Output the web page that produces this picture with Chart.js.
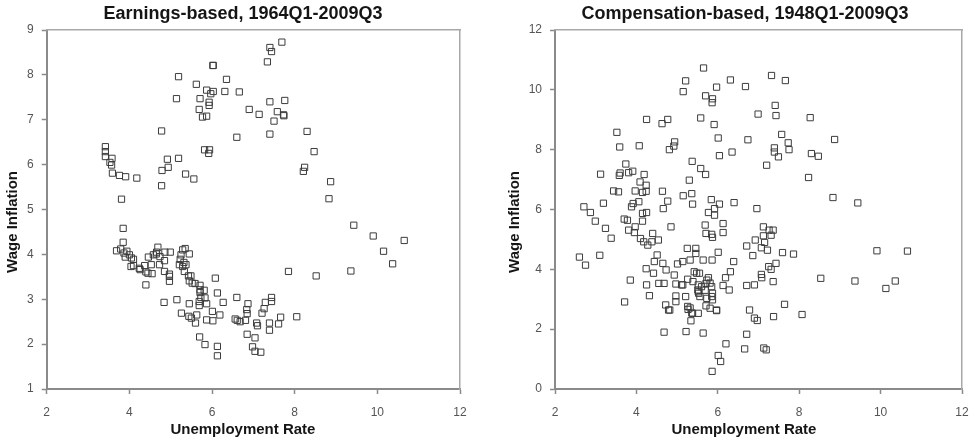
<!DOCTYPE html>
<html lang="en">
<head>
<meta charset="UTF-8">
<title>Wage Inflation vs Unemployment</title>
<script src="https://cdn.jsdelivr.net/npm/chart.js"></script>
<style>
body {
    margin: 0;
    background: #fff;
    width: 972px;
    height: 444px;
    overflow: hidden;
    position: relative;
}
/* two panels side by side */
.panel {
    position: absolute;
    top: 0;
}
#leftPanel { left: 0; }
#rightPanel { left: 500px; }
</style>
</head>
<body>
<div class="panel" id="leftPanel"><canvas id="earnChart" width="486" height="444"></canvas></div>
<div class="panel" id="rightPanel"><canvas id="compChart" width="490" height="444"></canvas></div>

<script>
// Earnings-based, 1964Q1-2009Q3
var earnUnemp = [
    3.42, 3.42, 3.42, 3.58, 3.53, 3.57, 3.59, 3.76, 3.91, 4.18, 3.81, 4.78, 4.79, 4.94, 4.92, 4.78,
    5.19, 5.36, 5.56, 5.19, 5.14, 5.62, 5.71, 5.69, 5.77, 5.87, 5.87, 5.93, 5.93, 6.03, 5.97, 6.03,
    6.02, 5.82, 5.94, 5.92, 6.31, 6.35, 6.66, 6.60, 6.90, 7.14, 7.34, 7.40, 7.44, 7.69, 7.40, 7.76,
    7.58, 7.50, 7.73, 7.74, 7.40, 8.30, 8.24, 8.21, 8.47, 8.87, 8.83, 9.43, 9.90, 10.15, 10.37, 10.65,
    9.36, 8.52, 7.85, 8.05,
    3.85, 3.85, 3.69, 3.79, 3.87, 3.94, 3.90, 4.00, 4.05, 4.10, 4.04, 4.10, 4.24, 4.26, 4.37, 4.40,
    4.45, 4.40, 4.46, 4.58, 4.69, 4.66, 4.65, 4.74, 4.53, 4.55, 4.73, 4.85, 4.85, 4.86, 4.99, 4.97,
    4.97, 4.97, 4.84, 5.15, 5.25, 5.29, 5.35, 5.45, 5.23, 5.21, 5.29, 5.32, 5.37, 5.33, 5.43, 5.49,
    5.45, 5.52, 5.59, 5.71, 5.71, 5.71, 5.73, 5.81, 5.83, 5.69, 5.69, 5.87, 6.08, 6.13, 6.27, 5.45,
    5.26, 5.44, 5.50, 5.63, 5.60, 5.87, 6.01, 6.02, 6.19, 5.70, 5.83, 6.13, 6.13, 6.60, 6.56, 6.61,
    6.68, 6.81, 6.87, 6.84, 6.85, 6.85, 7.04, 6.98, 7.04, 7.18, 7.10, 7.08, 7.21, 7.26, 7.29, 7.44,
    7.44, 7.39, 7.39, 7.61, 7.66
];
var earnWage = [
    6.40, 6.29, 6.18, 6.14, 6.05, 5.99, 5.81, 5.76, 5.73, 5.70, 5.23, 6.75, 5.87, 5.94, 6.12, 5.53,
    6.14, 5.79, 5.68, 7.96, 7.47, 7.79, 7.47, 7.23, 7.06, 7.08, 7.66, 7.39, 7.32, 7.63, 7.58, 8.21,
    8.21, 6.33, 6.33, 6.25, 7.63, 7.90, 7.62, 6.61, 7.23, 7.12, 8.29, 8.61, 8.52, 8.73, 7.40, 7.43,
    7.18, 6.97, 7.11, 7.09, 6.68, 6.74, 5.94, 5.85, 6.29, 5.62, 5.24, 4.65, 4.41, 4.07, 3.79, 4.31,
    3.63, 3.52, 3.62, 2.61,
    4.58, 4.27, 4.08, 4.12, 4.03, 4.07, 3.94, 3.99, 3.92, 3.89, 3.73, 3.75, 3.69, 3.66, 3.75, 3.61,
    3.58, 3.32, 3.94, 3.99, 4.16, 4.05, 4.01, 3.95, 3.77, 3.57, 3.77, 3.86, 3.62, 4.05, 4.05, 3.51,
    3.56, 3.40, 2.93, 2.99, 3.99, 4.10, 4.13, 4.01, 3.89, 3.77, 3.73, 3.82, 3.77, 3.62, 3.52, 3.52,
    3.41, 3.36, 3.35, 3.31, 3.21, 3.15, 3.04, 3.20, 3.03, 2.95, 2.86, 2.90, 3.47, 3.14, 2.93, 2.90,
    2.69, 2.62, 2.58, 2.65, 2.47, 2.54, 2.73, 2.52, 2.65, 2.16, 1.99, 1.95, 1.74, 3.04, 2.56, 2.53,
    2.50, 2.53, 2.90, 2.77, 2.68, 2.22, 2.14, 1.94, 1.84, 1.82, 2.41, 2.47, 2.69, 2.79, 2.93, 2.95,
    3.04, 2.47, 2.31, 2.45, 2.60
];

// Compensation-based, 1948Q1-2009Q3
var compUnemp = [
    2.60, 2.75, 2.71, 2.87, 2.99, 3.10, 3.12, 3.19, 3.24, 3.38, 3.44, 3.52, 3.56, 3.59, 3.60, 3.58,
    3.71, 3.74, 3.81, 3.91, 3.70, 3.78, 3.81, 3.85, 3.88, 3.92, 3.97, 3.95, 3.97, 4.06, 4.07, 4.09,
    4.15, 4.19, 4.24, 4.24, 4.15, 4.15, 4.25, 4.25, 4.10, 4.18, 4.28, 4.38, 4.54, 4.40, 4.24, 4.25,
    4.32, 4.42, 4.51, 4.44, 4.55, 4.64, 4.66, 4.63, 4.77, 4.77, 4.81, 4.85, 4.94, 4.92, 4.65, 4.68,
    4.73, 4.68, 4.72, 4.79, 4.82, 4.93, 4.97, 4.97, 4.97, 5.01, 5.14, 5.14, 5.15, 5.21, 5.15, 5.21,
    5.22, 5.26, 5.25, 5.26, 5.27, 5.30, 5.36, 5.37, 5.38, 5.32, 5.34, 5.38, 5.42, 5.46, 5.46, 5.52,
    5.55, 5.51, 5.53, 5.52, 5.58, 5.58, 5.65, 5.64, 5.64, 5.70, 5.70, 5.69, 5.71, 5.71, 5.73, 5.71,
    5.77, 5.81, 5.85, 5.85, 5.87, 5.84, 5.87, 5.86, 5.91, 5.86, 5.87, 5.87, 5.86, 5.77, 5.92, 5.92,
    5.97, 5.97, 6.01, 6.01, 6.04, 6.04, 6.01, 6.07, 6.13, 6.13, 6.13, 6.19, 6.20, 6.28, 6.31, 6.31,
    6.35, 6.40, 6.39, 6.68, 6.74, 6.71, 6.71, 6.71, 6.66, 6.78, 6.86, 6.90, 6.92, 6.90, 6.97, 6.96,
    6.99, 7.07, 7.07, 7.08, 7.12, 7.12, 7.13, 7.19, 7.20, 7.15, 7.22, 7.26, 7.31, 7.25, 7.31, 7.32,
    7.36, 7.36, 7.37, 7.39, 7.39, 7.41, 7.43, 7.43, 7.49, 7.57, 7.59, 7.64, 7.66, 7.73, 7.75, 7.86,
    8.07, 8.23, 8.27, 8.30, 8.47, 8.53, 8.83, 8.87, 9.37, 9.44, 9.91, 10.13, 10.36, 10.66,
    5.48, 5.73, 5.60, 5.52, 5.56, 5.69, 5.81, 5.39, 5.11, 5.85, 5.32, 5.36, 5.97
];
var compWage = [
    4.41, 4.14, 6.09, 5.90, 5.61, 4.47, 7.18, 6.21, 5.37, 5.04, 6.62, 8.58, 6.59, 8.09, 7.22, 7.14,
    2.91, 7.52, 7.23, 7.28, 5.68, 5.64, 5.31, 3.64, 6.09, 6.20, 6.62, 5.23, 5.42, 6.26, 8.13, 6.92,
    6.57, 7.17, 6.61, 6.81, 5.87, 5.61, 5.90, 9.01, 5.03, 4.92, 4.81, 4.92, 4.98, 5.20, 4.02, 3.48,
    3.12, 3.87, 4.48, 4.26, 3.53, 6.61, 6.03, 8.87, 9.01, 6.28, 8.00, 5.42, 8.26, 8.12, 4.20, 3.53,
    3.98, 1.90, 2.81, 2.64, 2.64, 3.81, 3.51, 3.11, 2.92, 4.18, 3.48, 4.26, 9.94, 10.30, 6.46, 3.09,
    1.92, 3.67, 4.70, 2.76, 2.66, 6.98, 6.53, 7.61, 6.18, 4.31, 2.28, 2.53, 3.92, 4.70, 4.53, 3.48,
    3.87, 3.31, 3.20, 2.53, 9.06, 7.37, 10.73, 1.87, 4.31, 9.80, 7.17, 5.48, 5.20, 3.53, 3.03, 2.78,
    3.72, 2.70, 3.42, 5.17, 5.07, 6.33, 9.70, 9.57, 8.84, 4.31, 3.20, 2.98, 0.59, 5.90, 6.03, 5.81,
    10.09, 2.62, 8.39, 4.57, 7.80, 6.18, 1.12, 0.92, 5.53, 5.23, 3.46, 3.72, 1.51, 3.31, 3.92, 10.33,
    7.92, 6.23, 4.26, 10.11, 8.33, 3.46, 4.78, 1.83, 1.34, 2.64, 4.46, 3.48, 4.98, 2.37, 2.29, 6.03,
    9.19, 4.72, 3.83, 3.72, 5.42, 5.12, 1.37, 1.31, 7.48, 4.90, 4.64, 5.31, 5.14, 4.09, 4.00, 10.48,
    5.31, 3.59, 2.42, 8.06, 7.92, 9.48, 9.14, 4.20, 7.76, 8.51, 4.56, 2.83, 10.31, 8.23, 8.00, 4.51,
    2.49, 7.07, 9.07, 7.87, 7.78, 3.70, 6.40, 8.34, 3.61, 6.22, 4.62, 3.36, 3.61, 4.61,
    3.87, 3.64, 3.42, 3.25, 3.09, 3.30, 3.54, 3.59, 3.48, 3.09, 2.71, 2.54, 2.64
];

var xTicks = [2, 4, 6, 8, 10, 12];

function toPoints(xs, ys) {
    var pts = [];
    for (var i = 0; i < xs.length; i++) {
        pts.push({ x: xs[i], y: ys[i] });
    }
    return pts;
}

var fontFamily = "'Liberation Sans', Arial, sans-serif";

function makeChart(id, title, xs, ys, yMin, yMax, yStep, leftWidth, rightWidth, yTitlePad, xTitleText, yTitleText) {
    var ctx = document.getElementById(id).getContext('2d');
    return new Chart(ctx, {
        type: 'scatter',
        data: {
            datasets: [{
                data: toPoints(xs, ys),
                pointStyle: 'rect',
                pointRadius: 4.4,
                pointBorderWidth: 1,
                pointBackgroundColor: 'rgba(0,0,0,0)',
                pointBorderColor: '#3c3c3c'
            }]
        },
        options: {
            responsive: false,
            animation: false,
            layout: { padding: 0 },
            plugins: {
                legend: { display: false },
                tooltip: { enabled: false },
                title: {
                    display: true,
                    text: title,
                    color: '#151515',
                    font: { family: fontFamily, size: 18, weight: 'bold' },
                    padding: { top: 3, bottom: 5.4 }
                }
            },
            scales: {
                x: {
                    type: 'linear',
                    position: 'bottom',
                    min: 2,
                    max: 12,
                    afterBuildTicks: function (scale) {
                        scale.ticks = xTicks.map(function (v) { return { value: v }; });
                    },
                    afterFit: function (scale) { scale.height = 55; },
                    grid: { drawOnChartArea: false, drawTicks: true, tickLength: 5, color: '#8a8a8a', tickWidth: 1.5 },
                    border: { display: true, color: '#8a8a8a', width: 2 },
                    ticks: { color: '#555', padding: 11, font: { family: fontFamily, size: 12 } },
                    title: {
                        display: true,
                        text: xTitleText,
                        color: '#151515',
                        font: { family: fontFamily, size: 15, weight: 'bold' },
                        padding: { top: 0, bottom: 5 }
                    }
                },
                y: {
                    type: 'linear',
                    position: 'left',
                    min: yMin,
                    max: yMax,
                    afterFit: function (scale) { scale.width = leftWidth; },
                    grid: { drawOnChartArea: false, drawTicks: true, tickLength: 5, color: '#8a8a8a', tickWidth: 1.5 },
                    border: { display: true, color: '#8a8a8a', width: 2 },
                    ticks: { stepSize: yStep, color: '#555', padding: 8, font: { family: fontFamily, size: 12 } },
                    title: {
                        display: true,
                        text: yTitleText,
                        color: '#151515',
                        font: { family: fontFamily, size: 15, weight: 'bold' },
                        padding: { top: yTitlePad, bottom: 0 }
                    }
                },
                xTop: {
                    type: 'linear',
                    position: 'top',
                    min: 2,
                    max: 12,
                    afterFit: function (scale) { scale.height = 0; },
                    grid: { drawOnChartArea: false, drawTicks: false },
                    border: { display: true, color: '#a8a8a8', width: 1.5 },
                    ticks: { display: false }
                },
                yRight: {
                    type: 'linear',
                    position: 'right',
                    min: yMin,
                    max: yMax,
                    afterFit: function (scale) { scale.width = rightWidth; },
                    grid: { drawOnChartArea: false, drawTicks: false },
                    border: { display: true, color: '#a8a8a8', width: 1.5 },
                    ticks: { display: false }
                }
            }
        }
    });
}

// Earnings panel
makeChart('earnChart', 'Earnings-based, 1964Q1-2009Q3', earnUnemp, earnWage,
    1, 9, 1, 46.7, 26, 4, 'Unemployment Rate     ', 'Wage Inflation      ');

// Compensation panel
makeChart('compChart', 'Compensation-based, 1948Q1-2009Q3', compUnemp, compWage,
    0, 12, 2, 55, 28, 6, 'Unemployment Rate       ', 'Wage Inflation      ');
</script>
</body>
</html>
